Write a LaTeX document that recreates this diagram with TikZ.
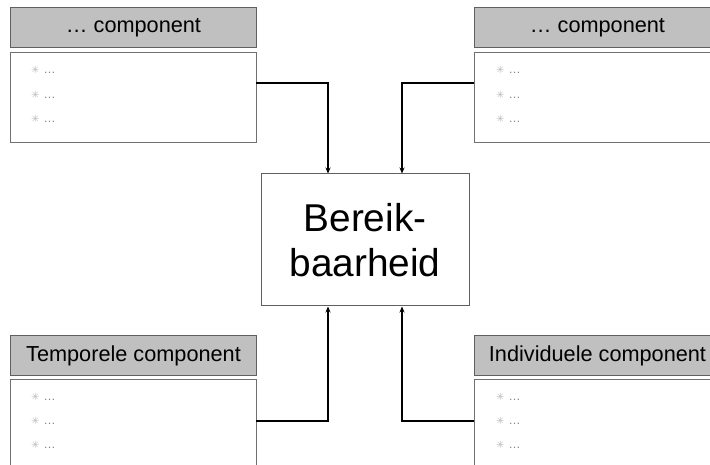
\documentclass[tikz,border=0pt]{standalone}
\usepackage{fontspec}
\setmainfont{Liberation Sans}
\newfontfamily\symfont{DejaVu Sans}
\usetikzlibrary{arrows.meta,calc}
\definecolor{hdrfill}{HTML}{C0C0C0}
\definecolor{edgecol}{HTML}{606060}
\definecolor{bodyedge}{HTML}{707070}
\newcommand{\bitem}{{\symfont\color{gray!55}\fontsize{10}{10}\selectfont ✳}\hspace{4pt}{\color{gray}\fontsize{12}{12}\selectfont …}}
\begin{document}
\begin{tikzpicture}[x=1pt,y=-1pt,
  hdr/.style={draw=edgecol, fill=hdrfill, line width=1pt, minimum width=246pt, minimum height=40pt, anchor=north west, inner sep=0pt, font=\fontsize{21.7}{24}\selectfont},
  body/.style={draw=bodyedge, line width=1pt, minimum width=246pt, anchor=north west, inner sep=0pt},
  bitemnode/.style={anchor=base west, inner sep=0pt},
  mainbox/.style={draw=edgecol, line width=1pt, minimum width=208pt, minimum height=132pt, align=center, inner sep=0pt, font=\fontsize{38.8}{45}\selectfont},
  conn/.style={line width=1.4pt, -{Stealth[length=6pt,width=5pt]}}]
\useasboundingbox (0,0) rectangle (710,465);
\clip (0,0) rectangle (710,465);

% headers and bodies
\node[hdr] (hTL) at (10,7) {… component};
\node[body, minimum height=90pt] (bTL) at (10,52) {};
\node[hdr] (hTR) at (474,7) {… component};
\node[body, minimum height=90pt] (bTR) at (474,52) {};
\node[hdr] (hBL) at (10,335) {Temporele component};
\node[body, minimum height=110pt] (bBL) at (10,379) {};
\node[hdr] (hBR) at (474,335) {Individuele component};
\node[body, minimum height=110pt] (bBR) at (474,379) {};

% bullet items
\node[bitemnode] (tl1) at (31,74) {\bitem};
\node[bitemnode] (tl2) at (31,99) {\bitem};
\node[bitemnode] (tl3) at (31,123) {\bitem};
\node[bitemnode] (tr1) at (496,74) {\bitem};
\node[bitemnode] (tr2) at (496,99) {\bitem};
\node[bitemnode] (tr3) at (496,123) {\bitem};
\node[bitemnode] (bl1) at (31,400) {\bitem};
\node[bitemnode] (bl2) at (31,424) {\bitem};
\node[bitemnode] (bl3) at (31,448) {\bitem};
\node[bitemnode] (br1) at (496,400) {\bitem};
\node[bitemnode] (br2) at (496,424) {\bitem};
\node[bitemnode] (br3) at (496,448) {\bitem};

% central box
\node[mainbox] (c) at (365,240) {Bereik-\\baarheid};

% connectors
\coordinate (tlo) at (256,83);
\coordinate (tro) at (474,83);
\coordinate (blo) at (256,421);
\coordinate (bro) at (474,421);
\draw[conn] (tlo) -| ($(c.north)+(-37,0)$);
\draw[conn] (tro) -| ($(c.north)+(37,0)$);
\draw[conn] (blo) -| ($(c.south)+(-37,0)$);
\draw[conn] (bro) -| ($(c.south)+(37,0)$);
\end{tikzpicture}
\end{document}
